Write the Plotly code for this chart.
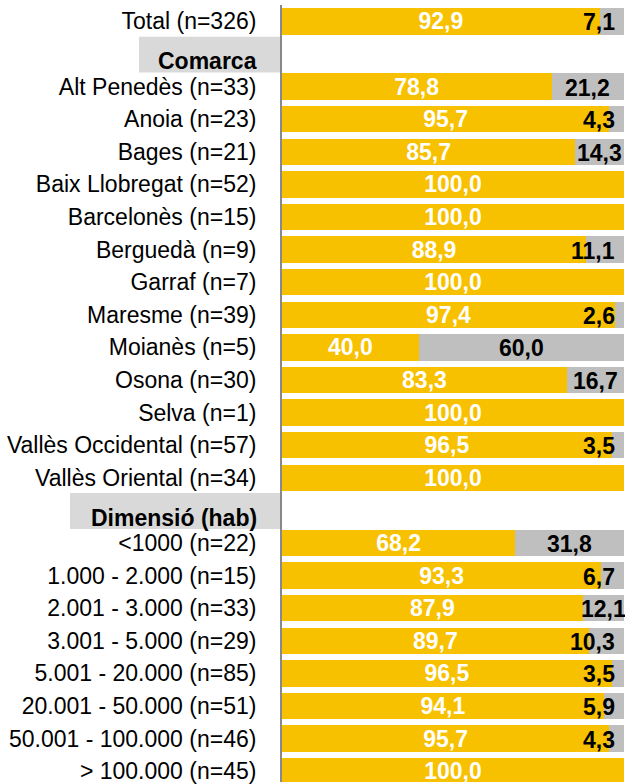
import plotly.graph_objects as go

categories = [
    "Total (n=326)", "Comarca",
    "Alt Penedès (n=33)", "Anoia (n=23)", "Bages (n=21)", "Baix Llobregat (n=52)",
    "Barcelonès (n=15)", "Berguedà (n=9)", "Garraf (n=7)", "Maresme (n=39)",
    "Moianès (n=5)", "Osona (n=30)", "Selva (n=1)", "Vallès Occidental (n=57)",
    "Vallès Oriental (n=34)", "Dimensió (hab)",
    "<1000 (n=22)", "1.000 - 2.000 (n=15)", "2.001 - 3.000 (n=33)", "3.001 - 5.000 (n=29)",
    "5.001 - 20.000 (n=85)", "20.001 - 50.000 (n=51)", "50.001 - 100.000 (n=46)",
    "> 100.000 (n=45)",
]
headers = ["Comarca", "Dimensió (hab)"]

yes_values = [92.9, None, 78.8, 95.7, 85.7, 100.0, 100.0, 88.9, 100.0, 97.4, 40.0, 83.3,
              100.0, 96.5, 100.0, None, 68.2, 93.3, 87.9, 89.7, 96.5, 94.1, 95.7, 100.0]
no_values = [7.1, None, 21.2, 4.3, 14.3, 0.0, 0.0, 11.1, 0.0, 2.6, 60.0, 16.7,
             0.0, 3.5, 0.0, None, 31.8, 6.7, 12.1, 10.3, 3.5, 5.9, 4.3, 0.0]

YELLOW = "#F8C100"
GRAY = "#BFBFBF"
BOX = "#D9D9D9"
FONT = "Liberation Sans, Arial, sans-serif"
FS = 23

W, H = 625, 784
ML, MR, MT, MB = 282, 1, 5, 0
plot_w = W - ML - MR
pitch = 32.69

def fmt(v):
    return f"{v:.1f}".replace(".", ",")

def esc(s):
    return s.replace("<", "&lt;").replace(">", "&gt;")

fig = go.Figure()
fig.add_trace(go.Bar(
    y=categories, x=yes_values, orientation="h", marker_color=YELLOW,
    marker_line_width=0,
    text=[f"<b>{fmt(v)}</b>" if v else "" for v in yes_values],
    textposition="inside", insidetextanchor="middle", textangle=0,
    constraintext="none",
    textfont=dict(color="white", size=FS, family=FONT),
    hoverinfo="skip",
))
fig.add_trace(go.Bar(
    y=categories, x=no_values, orientation="h", marker_color=GRAY,
    marker_line_width=0, hoverinfo="skip",
))

annotations = []
for cat, yv, nv in zip(categories, yes_values, no_values):
    if not nv:
        continue
    txt = fmt(nv)
    half_px = FS * (sum(0.278 if c == "," else 0.556 for c in txt)) / 2
    center = yv + nv / 2
    center_px = center / 100 * plot_w
    if center_px + half_px > plot_w + 3:
        annotations.append(dict(x=100 - 7 / plot_w * 100, y=cat, xref="x", yref="y",
                                text=f"<b>{txt}</b>", showarrow=False, xanchor="right",
                                yshift=-1,
                                font=dict(color="black", size=FS, family=FONT)))
    else:
        annotations.append(dict(x=center, y=cat, xref="x", yref="y",
                                text=f"<b>{txt}</b>", showarrow=False, xanchor="center",
                                yshift=-1,
                                font=dict(color="black", size=FS, family=FONT)))

shapes = []
box_left_px = {"Comarca": 143, "Dimensió (hab)": 212}
for h in headers:
    idx = categories.index(h)
    shapes.append(dict(type="rect", xref="paper", yref="y",
                       x0=-box_left_px[h] / plot_w, x1=-1 / plot_w,
                       y0=idx - 0.53, y1=idx + 0.57,
                       fillcolor=BOX, line_width=0, layer="below"))
    annotations.append(dict(x=0, y=h, xref="paper", yref="y", text=f"<b>{h}</b>",
                            showarrow=False, xanchor="right", xshift=-23, yshift=-7.5,
                            font=dict(color="black", size=FS, family=FONT)))

ticktext = ["" if c in headers else esc(c) for c in categories]
units = (H - MT - MB) / pitch

fig.update_layout(
    width=W, height=H, barmode="stack", bargap=0.19, showlegend=False,
    separators=",.",
    margin=dict(l=ML, r=MR, t=MT, b=MB, pad=0),
    paper_bgcolor="white", plot_bgcolor="white",
    font=dict(family=FONT, size=FS, color="black"),
    xaxis=dict(range=[0, 100], visible=False, fixedrange=True),
    yaxis=dict(type="category", categoryorder="array", categoryarray=categories,
               tickmode="array", tickvals=categories, ticktext=ticktext,
               range=[-0.5 + units, -0.5], autorange=False,
               showline=True, linecolor="#898989", linewidth=2,
               ticks="outside", ticklen=19, tickcolor="rgba(0,0,0,0)",
               showgrid=False, tickfont=dict(size=FS, family=FONT, color="black")),
    annotations=annotations, shapes=shapes,
)

fig.write_html(
    "out.html",
    config={"displayModeBar": False},
    post_script="document.body.style.margin='0';document.body.style.padding='0';"
                "document.body.style.overflow='hidden';",
)
